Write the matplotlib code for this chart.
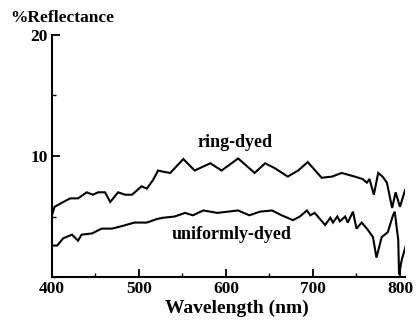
import matplotlib
matplotlib.use("Agg")
import matplotlib.pyplot as plt
from matplotlib.ticker import MultipleLocator

ring_wl = [400, 403, 413, 421, 430, 440, 447, 453, 461, 467, 476, 484, 492, 503, 509, 516, 522, 528,
           536, 551, 564, 582, 595, 614, 633, 645, 656, 671, 683, 694, 710, 722, 733, 748, 757, 762,
           765, 770, 775, 780, 785, 791, 795, 800, 806]
ring_val = [5.1, 5.8, 6.2, 6.5, 6.5, 7.0, 6.8, 7.0, 7.0, 6.2, 7.0, 6.8, 6.8, 7.5, 7.3, 8.0, 8.8, 8.7,
            8.6, 9.75, 8.8, 9.4, 8.8, 9.8, 8.6, 9.4, 9.0, 8.3, 8.8, 9.5, 8.2, 8.3, 8.6, 8.3, 8.1, 7.8,
            8.1, 6.8, 8.6, 8.3, 7.8, 5.7, 7.0, 5.8, 7.2]

uni_wl = [400, 406, 413, 423, 430, 434, 446, 457, 469, 480, 495, 509, 521, 528, 541, 553, 562, 574,
          590, 614, 627, 639, 653, 664, 677, 685, 693, 697, 702, 714, 720, 723, 728, 731, 737, 740,
          746, 750, 756, 762, 769, 773, 779, 786, 792, 794, 798, 799, 802, 808]
uni_val = [2.6, 2.6, 3.2, 3.5, 3.0, 3.5, 3.6, 4.0, 4.0, 4.2, 4.5, 4.5, 4.8, 4.9, 5.0, 5.3, 5.1, 5.5,
           5.3, 5.5, 5.1, 5.4, 5.5, 5.1, 4.7, 5.0, 5.5, 5.1, 5.3, 4.3, 4.9, 4.5, 5.0, 4.6, 5.0, 4.5,
           5.4, 4.0, 4.5, 4.0, 3.3, 1.6, 3.3, 3.7, 5.1, 5.4, 3.1, 0.2, 1.4, 2.9]

x_ticks = [400, 500, 600, 700, 800]
y_ticks = [10, 20]
labels = ["ring-dyed", "uniformly-dyed"]

serif = ["Liberation Serif", "DejaVu Serif"]

fig = plt.figure(figsize=(4.19, 3.24), dpi=100)
ax = fig.add_axes([0.124, 0.145, 0.843, 0.747])

ax.plot(ring_wl, ring_val, color="black", lw=1.5, solid_joinstyle="miter")
ax.plot(uni_wl, uni_val, color="black", lw=1.5, solid_joinstyle="miter")

ax.set_xlim(400, 806)
ax.set_ylim(0, 20)
ax.set_xticks(x_ticks)
ax.set_yticks(y_ticks)
ax.xaxis.set_minor_locator(MultipleLocator(50))
ax.yaxis.set_minor_locator(MultipleLocator(5))
ax.tick_params(which="major", direction="in", length=6, width=1.3, labelsize=12.5, pad=3)
ax.tick_params(which="minor", direction="in", length=3, width=1.0)
for lab in ax.get_xticklabels() + ax.get_yticklabels():
    lab.set_fontfamily(serif)
    lab.set_fontweight("bold")

for s in ["top", "right"]:
    ax.spines[s].set_visible(False)
for s in ["left", "bottom"]:
    ax.spines[s].set_linewidth(1.5)

fig.text(0.566, 0.048, "Wavelength (nm)", family=serif, fontweight="bold", fontsize=14,
         ha="center", va="center")
fig.text(0.024, 0.945, "%Reflectance", family=serif, fontweight="bold", fontsize=12.5,
         ha="left", va="center")

ax.text(610, 11.1, labels[0], family=serif, fontweight="bold", fontsize=13, ha="center", va="center")
ax.text(607, 3.5, labels[1], family=serif, fontweight="bold", fontsize=13, ha="center", va="center")

fig.savefig("out.png", dpi=100)
